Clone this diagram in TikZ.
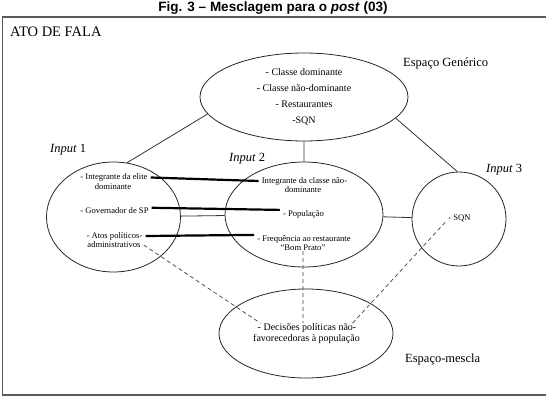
\documentclass[tikz,border=0pt]{standalone}
\usepackage{fontspec}
\setmainfont{Liberation Serif}
\newfontfamily\titlefont{Liberation Sans}
\usetikzlibrary{shapes.geometric}
\begin{document}
\begin{tikzpicture}[x=1pt, y=-1pt]
\tikzset{space style/.style={shape=ellipse, draw=black!85, line width=0.8pt, inner sep=0pt},
         item style/.style={inner xsep=3pt, inner ysep=0pt, font=\fontsize{8.6}{9}\selectfont},
         mix style/.style={inner xsep=3pt, inner ysep=0pt, font=\fontsize{10}{11}\selectfont},
         label style/.style={anchor=base west, inner sep=0pt, font=\fontsize{12.5}{14}\selectfont},
         link style/.style={line width=0.8pt, draw=black!80},
         map style/.style={line width=2.2pt},
         blend style/.style={line width=0.7pt, dash pattern=on 4pt off 3pt, draw=black!75}}

\useasboundingbox (0,0) rectangle (546,401);
\draw[black!65, line width=1.3pt] (2.5,17) rectangle (548,395);

\node[anchor=base, inner sep=0pt, font=\titlefont\bfseries\fontsize{13.5}{15}\selectfont] at (273, 11.5) (title) {Fig. 3 – Mesclagem para o \textit{post} (03)};
\node[anchor=base west, inner sep=0pt, font=\fontsize{14.5}{16}\selectfont] at (10, 37) (act) {ATO DE FALA};

\node[space style, minimum width=208pt, minimum height=88pt, align=center, font=\fontsize{10}{16}\selectfont] at (304, 97) (gen) {- Classe dominante\\- Classe não-dominante\\- Restaurantes\\-SQN};
\node[space style, minimum width=134pt, minimum height=110pt] at (113.5, 217) (in1) {};
\node[space style, minimum width=158pt, minimum height=105pt] at (304, 214.5) (in2) {};
\node[space style, shape=circle, minimum size=94pt] at (459, 219) (in3) {};
\node[space style, minimum width=174pt, minimum height=89pt] at (306, 333.5) (blend) {};

\node[label style] at (403, 67)    (genlabel)   {Espaço Genérico};
\node[label style] at (405, 362)   (blendlabel) {Espaço-mescla};
\node[label style] at (50, 153)    (in1label)   {\textit{Input} 1};
\node[label style] at (229, 161.5) (in2label)   {\textit{Input} 2};
\node[label style] at (486, 172)   (in3label)   {\textit{Input} 3};

\node[item style] at (114, 177.5) (elite1) {- Integrante da elite};
\node[item style] at (113, 186.5) (elite2) {dominante};
\node[item style] at (114.5, 211) (gov)    {- Governador de SP};
\node[item style] at (114.5, 236) (atos1)  {- Atos políticos-};
\node[item style] at (114, 245)   (atos2)  {administrativos};

\node[item style] at (304.5, 181) (class1) {Integrante da classe não-};
\node[item style] at (303, 190)   (class2) {dominante};
\node[item style] at (303.5, 214) (pop)    {- População};
\node[item style] at (304, 239)   (freq1)  {- Frequência ao restaurante};
\node[item style] at (303, 248)   (freq2)  {“Bom Prato”};

\node[item style] at (459.5, 218.5) (sqn) {- SQN};

\node[mix style] at (307, 328)   (dec1) {- Decisões políticas não-};
\node[mix style] at (306.5, 339) (dec2) {favorecedoras à população};

\draw[link style]
            (gen.190)     --    (in1.76)
            (gen.south)   --    (in2.north)
            (gen.-13)     --    (in3.92)
            (in1)         --    (in2)
            (in2)         --    (in3)
;
\draw[map style]
            (elite1.east)     --    (class1.west)
            (gov.north east)  --    (pop.north west)
            (atos1.east)      --    (freq1.north west)
;
\draw[blend style]
            (atos2.east)      --    ([xshift=6pt]dec1.north west)
            (freq2.south)     --    (freq2.south |- dec1.north)
            (sqn.south west)  --    ([xshift=-7pt]dec1.north east)
;
\end{tikzpicture}
\end{document}
